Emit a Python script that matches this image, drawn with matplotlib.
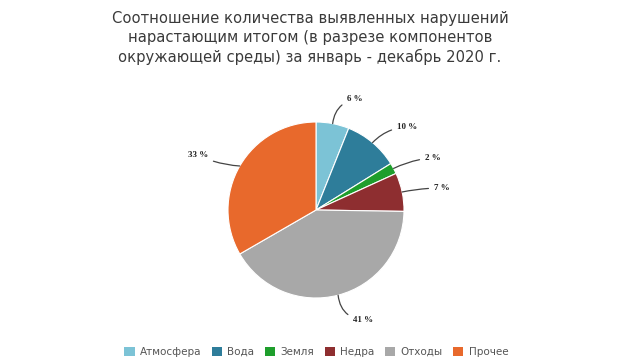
import numpy as np
import matplotlib.pyplot as plt
from matplotlib.patches import Patch

categories = ['Атмосфера', 'Вода', 'Земля', 'Недра', 'Отходы', 'Прочее']
values = [6, 10, 2, 7, 41, 33]
colors = ['#7cc3d6', '#2e7d9a', '#1e9e2c', '#8e2e30', '#a8a8a8', '#e8692c']
title = ('Соотношение количества выявленных нарушений\n'
         'нарастающим итогом (в разрезе компонентов\n'
         'окружающей среды) за январь - декабрь 2020 г.')

W, H = 620, 364
fig = plt.figure(figsize=(W / 100, H / 100), dpi=100)
ax = fig.add_axes([0, 0, 1, 1])

cx, cy, r = 316, H - 210, 88
wedges, _ = ax.pie(values, colors=colors, startangle=90, counterclock=False,
                   center=(cx, cy), radius=r, frame=True,
                   wedgeprops=dict(edgecolor='white', linewidth=0.8))
ax.set_xlim(0, W)
ax.set_ylim(0, H)
ax.set_aspect('equal')
ax.axis('off')

# label positions in pixels (x, y from top), alignment, curvature
label_pos = [(347, 99, 'left', 0.35), (397, 127, 'left', 0.2),
             (425, 158, 'left', 0.1), (434, 188, 'left', 0.05),
             (353, 320, 'left', -0.4), (208, 155, 'right', 0.1)]

for w, v, (lx, ly, ha, rad) in zip(wedges, values, label_pos):
    ang = np.deg2rad((w.theta1 + w.theta2) / 2)
    x0 = cx + r * np.cos(ang)
    y0 = cy + r * np.sin(ang)
    ax.annotate(f'{v} %', xy=(x0, y0), xytext=(lx, H - ly),
                ha=ha, va='center', fontsize=6.5, fontweight='bold',
                family='Liberation Serif', color='#222222',
                arrowprops=dict(arrowstyle='-', color='#444444', lw=0.9,
                                connectionstyle=f'arc3,rad={rad}',
                                shrinkA=2, shrinkB=0))

fig.text(0.5, 1 - 38 / H, title, ha='center', va='center', fontsize=10.6,
         color='#3a3a3a', linespacing=1.3)

handles = [Patch(facecolor=c, edgecolor='none') for c in colors]
fig.legend(handles, categories, loc='center', bbox_to_anchor=(0.51, 1 - 352 / H),
           ncol=6, frameon=False, fontsize=7.5, handlelength=1.0,
           handleheight=1.0, handletextpad=0.5, columnspacing=1.0,
           labelcolor='#555555')

fig.savefig('out.png', dpi=100, facecolor='white')
